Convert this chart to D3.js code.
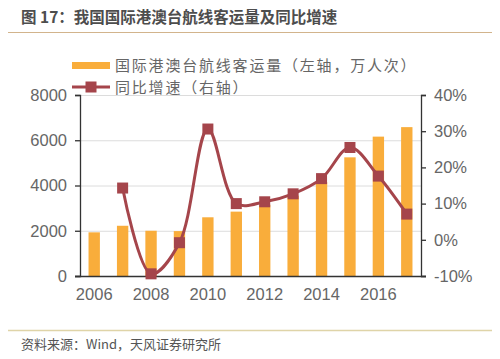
<!DOCTYPE html>
<html><head><meta charset="utf-8">
<script src="https://cdn.jsdelivr.net/npm/d3@7/dist/d3.min.js"></script>
<style>body{margin:0;background:#fff}svg{display:block}</style>
</head><body>
<svg id="c" width="500" height="359"></svg>
<script>
const years = ["2006","2007","2008","2009","2010","2011","2012","2013","2014","2015","2016","2017"];
const passengers = [1930, 2220, 2000, 1985, 2595, 2845, 3150, 3550, 4150, 5245, 6160, 6580];
const growth = [null, 14.3, -9.4, -0.8, 30.6, 10.0, 10.5, 12.7, 16.9, 25.5, 17.6, 7.1];
const leftTicks = [0, 2000, 4000, 6000, 8000];
const rightTicks = [-10, 0, 10, 20, 30, 40];
const xTickLabels = ["2006","2008","2010","2012","2014","2016"];
const title = "图 17：我国国际港澳台航线客运量及同比增速";
const source = "资料来源：Wind，天风证券研究所";
const legendLabels = ["国际港澳台航线客运量（左轴，万人次）", "同比增速（右轴）"];

const svg = d3.select("#c");
const font = "'Liberation Sans','Noto Sans CJK SC',sans-serif";
const cjk = "'Noto Sans CJK SC','Liberation Sans',sans-serif";
const barColor = "#F9AD3B", lineColor = "#A5454B", textColor = "#666";

const L = 80, R = 421, T = 95, B = 276;
const x = d3.scaleBand().domain(years).range([L, R]).paddingInner(0.6).paddingOuter(0.3);
const y = d3.scaleLinear().domain([0, 8000]).range([B, T]);
const y2 = d3.scaleLinear().domain([-10, 40]).range([B, T]);

// title
svg.append("text").attr("x", 21).attr("y", 23).attr("font-family", cjk).attr("font-weight", "bold")
  .attr("font-size", 15.5).attr("fill", "#4d4d4d").text(title);
svg.append("line").attr("x1", 8).attr("x2", 492).attr("y1", 32.5).attr("y2", 32.5)
  .attr("stroke", "#d2b48c").attr("stroke-width", 1);

// grid
svg.append("g").selectAll("line").data(leftTicks.filter(d => d > 0)).join("line")
  .attr("x1", L).attr("x2", R).attr("y1", d => y(d) + 0.5).attr("y2", d => y(d) + 0.5)
  .attr("stroke", "#dcdcdc").attr("stroke-width", 1);

// bars
svg.append("g").selectAll("rect").data(passengers).join("rect")
  .attr("x", (d, i) => x(years[i])).attr("width", x.bandwidth())
  .attr("y", d => y(d)).attr("height", d => B - y(d)).attr("fill", barColor);

// axes
const gl = svg.append("g").attr("transform", `translate(${L},0)`)
  .call(d3.axisLeft(y).tickValues(leftTicks).tickSize(5).tickPadding(8).tickFormat(d3.format("d")));
const gr = svg.append("g").attr("transform", `translate(${R},0)`)
  .call(d3.axisRight(y2).tickValues(rightTicks).tickSize(5).tickPadding(8).tickFormat(d => d + "%"));
const gb = svg.append("g").attr("transform", `translate(0,${B})`)
  .call(d3.axisBottom(x).tickValues(xTickLabels).tickSize(0).tickPadding(12));
[gl, gr, gb].forEach(g => {
  g.select(".domain").attr("stroke", "#333").attr("stroke-width", 1.3);
  g.selectAll(".tick line").attr("stroke", "#333").attr("stroke-width", 1.3);
  g.selectAll("text").attr("font-family", font).attr("font-size", 16.5).attr("fill", textColor);
});
gb.select(".domain").attr("d", `M${L - 5},0.5H${R + 5}`);

// line
const pts = growth.map((g, i) => ({ g, i })).filter(d => d.g !== null);
const line = d3.line().x(d => x(years[d.i]) + x.bandwidth() / 2).y(d => y2(d.g)).curve(d3.curveCatmullRom.alpha(0.5));
svg.append("path").datum(pts).attr("d", line).attr("fill", "none")
  .attr("stroke", lineColor).attr("stroke-width", 3);
const ms = 11;
svg.append("g").selectAll("rect").data(pts).join("rect")
  .attr("x", d => x(years[d.i]) + x.bandwidth() / 2 - ms / 2).attr("y", d => y2(d.g) - ms / 2)
  .attr("width", ms).attr("height", ms).attr("fill", lineColor);

// legend
const lg = svg.append("g");
lg.append("rect").attr("x", 72).attr("y", 62).attr("width", 38).attr("height", 7).attr("fill", barColor);
lg.append("text").attr("x", 115).attr("y", 70.5).attr("font-family", cjk).attr("font-size", 15)
  .attr("letter-spacing", 1.8).attr("fill", textColor).text(legendLabels[0]);
lg.append("line").attr("x1", 72).attr("x2", 110).attr("y1", 87).attr("y2", 87)
  .attr("stroke", lineColor).attr("stroke-width", 3);
lg.append("rect").attr("x", 91 - ms / 2).attr("y", 87 - ms / 2).attr("width", ms).attr("height", ms).attr("fill", lineColor);
lg.append("text").attr("x", 115).attr("y", 92.7).attr("font-family", cjk).attr("font-size", 15)
  .attr("letter-spacing", 1.8).attr("fill", textColor).text(legendLabels[1]);

// footer
svg.append("line").attr("x1", 8).attr("x2", 492).attr("y1", 330.5).attr("y2", 330.5)
  .attr("stroke", "#dfd4a8").attr("stroke-width", 1.5);
svg.append("text").attr("x", 21).attr("y", 349).attr("font-family", cjk).attr("font-size", 13)
  .attr("fill", "#555").text(source);
</script>
</body></html>
